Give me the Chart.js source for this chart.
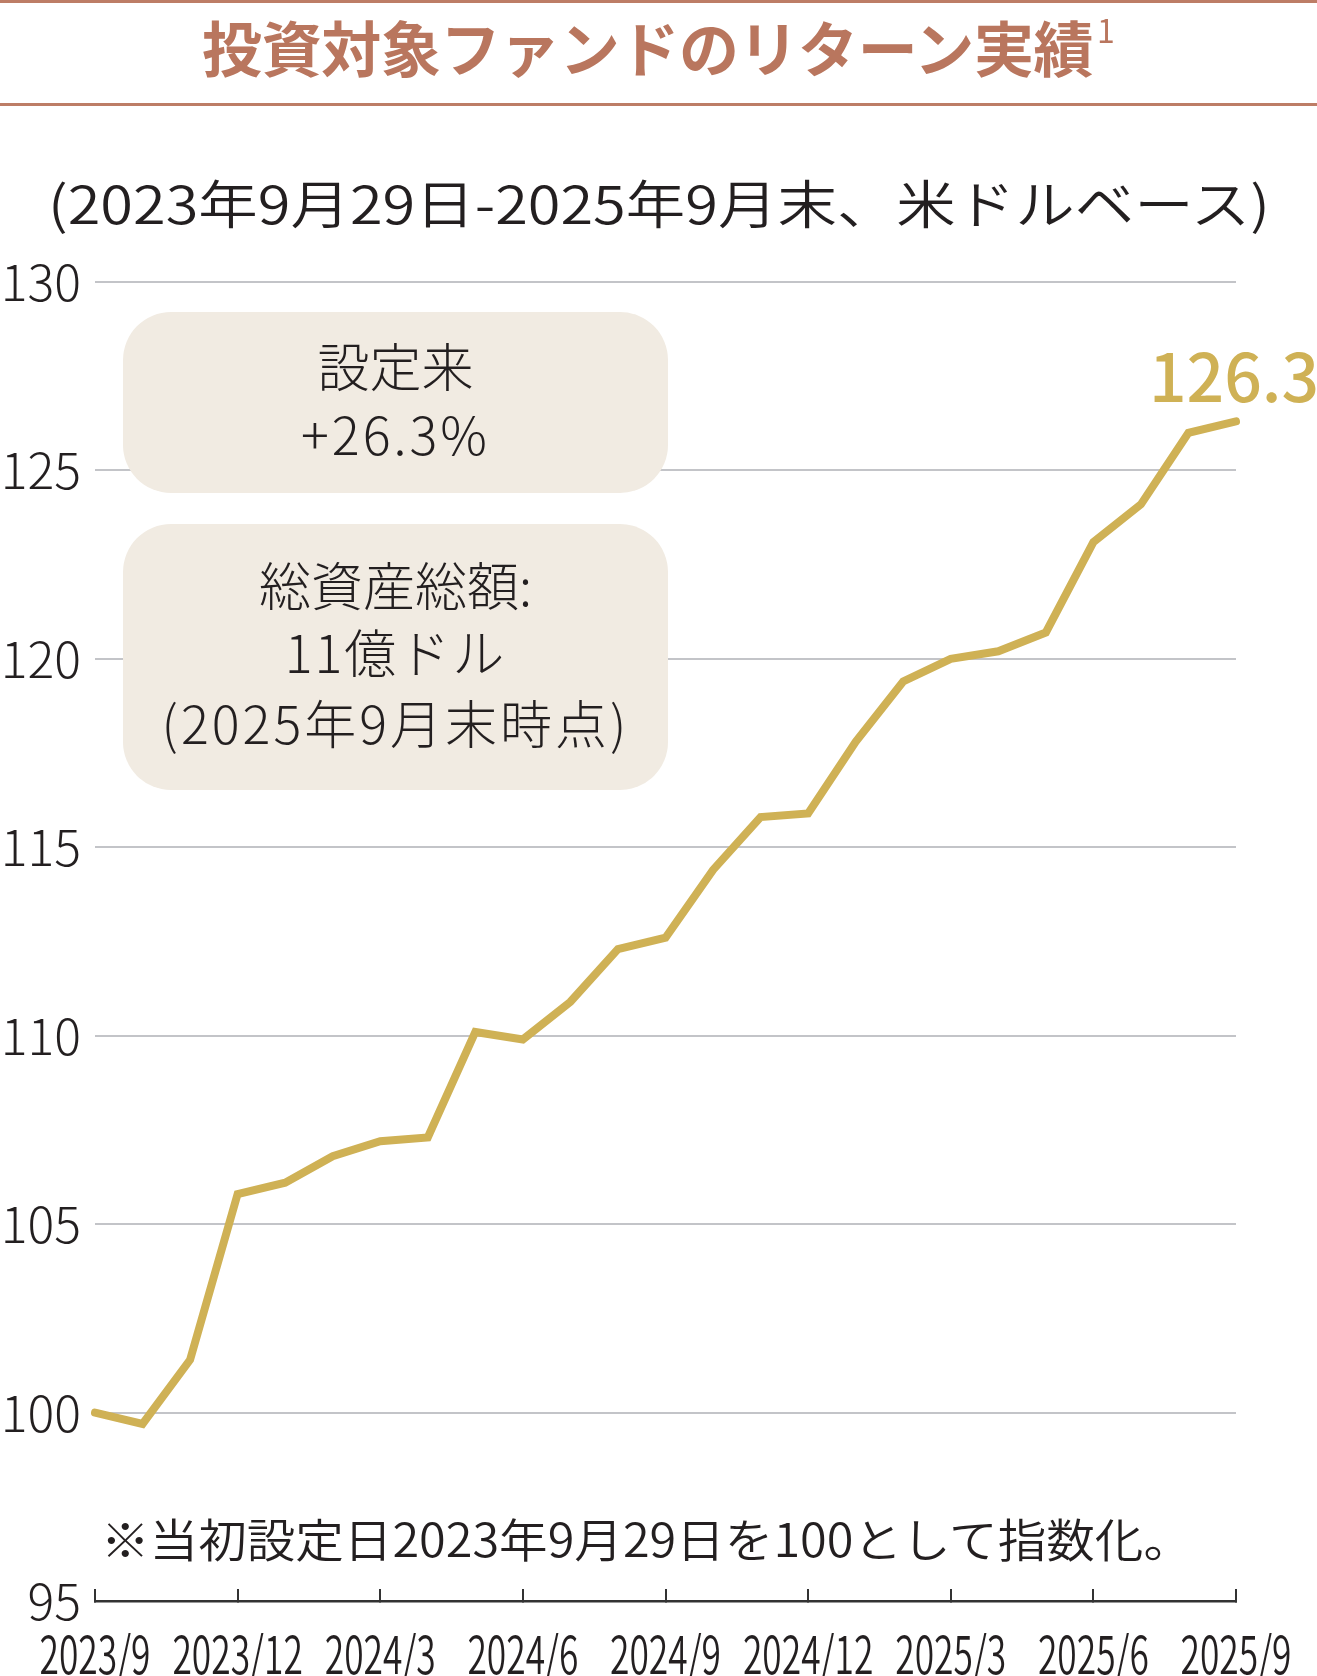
<!DOCTYPE html>
<html lang="ja">
<head>
<meta charset="utf-8">
<script src="https://cdn.jsdelivr.net/npm/chart.js@4.4.1/dist/chart.umd.min.js"></script>
<style>
  html, body { margin: 0; padding: 0; background: #ffffff; }
  body { width: 1317px; height: 1676px; position: relative; overflow: hidden;
         font-family: "Noto Sans CJK JP", "Noto Sans", sans-serif; color: #231f20; }
  #wrap { position: absolute; left: 0; top: 0; width: 1317px; height: 1676px; }
  .rule { position: absolute; left: 0; width: 1317px; height: 3px; background: #bd7d66; }
  #title { position: absolute; left: 0; top: 16px; width: 1317px; text-align: center;
           font-size: 60px; line-height: 60px; font-weight: 700; color: #b9765e; white-space: nowrap; letter-spacing: -0.4px; }
  #title .sup { font-size: 32px; font-weight: 400; position: relative; top: -29px; margin-left: 4px; letter-spacing: 0; }
  .fit { position: absolute; white-space: nowrap; transform-origin: 0 0; display: inline-block; }
  #subtitle { left: 48px; top: 176px; font-size: 52px; line-height: 52px; font-weight: 350; }
  #note { left: 101px; top: 1514px; font-size: 46px; line-height: 46px; font-weight: 350; }
  .box { position: absolute; left: 123px; width: 545px; background: #f1ebe2; border-radius: 48px; }
  .box div { position: absolute; left: 0; width: 545px; text-align: center; font-size: 52px; line-height: 52px;
             font-weight: 300; white-space: nowrap; }
</style>
</head>
<body>
<div id="wrap"><canvas id="c" width="1317" height="1676"></canvas></div>

<div class="rule" style="top:0px"></div>
<div class="rule" style="top:103px"></div>
<div id="title">投資対象ファンドのリターン実績<span class="sup">1</span></div>
<div id="subtitle" class="fit" data-w="1222">(2023年9月29日-2025年9月末、米ドルベース)</div>

<div class="box" style="top:312px;height:181px">
  <div style="top:27px">設定来</div>
  <div style="top:95px;letter-spacing:3px">+26.3%</div>
</div>
<div class="box" style="top:524px;height:266px">
  <div style="top:34px">総資産総額:</div>
  <div style="top:101px;letter-spacing:2px">11億ドル</div>
  <div style="top:172px;letter-spacing:3px">(2025年9月末時点)</div>
</div>

<div id="note" class="fit" data-w="1091">※当初設定日2023年9月29日を100として指数化。</div>

<script>
// ---- data ----
const months = [
  "2023/9","2023/10","2023/11","2023/12",
  "2024/1","2024/2","2024/3","2024/4","2024/5","2024/6","2024/7","2024/8","2024/9","2024/10","2024/11","2024/12",
  "2025/1","2025/2","2025/3","2025/4","2025/5","2025/6","2025/7","2025/8","2025/9"
];
const fundIndex = [
  100.0, 99.7, 101.4, 105.8,
  106.1, 106.8, 107.2, 107.3, 110.1, 109.9, 110.9, 112.3, 112.6, 114.4, 115.8, 115.9,
  117.8, 119.4, 120.0, 120.2, 120.7, 123.1, 124.1, 126.0, 126.3
];
const xTickLabels = ["2023/9","2023/12","2024/3","2024/6","2024/9","2024/12","2025/3","2025/6","2025/9"];
const yTicks = [95, 100, 105, 110, 115, 120, 125, 130];

const GOLD = "#cfb155";
const FONT = '"Noto Sans CJK JP", "Noto Sans", sans-serif';

// fit condensed text widths
document.querySelectorAll('.fit').forEach(el => {
  const w = parseFloat(el.dataset.w);
  const r = el.getBoundingClientRect().width;
  if (r > 0) el.style.transform = 'scaleX(' + (w / r) + ')';
});

const annotate = {
  id: 'annotate',
  afterDraw(chart) {
    const ctx = chart.ctx;
    const xs = chart.scales.x;
    ctx.save();
    // condensed x tick labels, positioned by the category scale
    ctx.font = '350 52px ' + FONT;
    ctx.fillStyle = '#231f20';
    ctx.textAlign = 'center';
    ctx.textBaseline = 'alphabetic';
    xTickLabels.forEach(lab => {
      const x = xs.getPixelForValue(months.indexOf(lab));
      ctx.save();
      ctx.translate(x, 1674);
      ctx.scale(0.68, 1);
      ctx.fillText(lab, 0, 0);
      ctx.restore();
    });
    // last value label
    const meta = chart.getDatasetMeta(0);
    const last = meta.data[meta.data.length - 1];
    const v = fundIndex[fundIndex.length - 1];
    ctx.font = '500 66px ' + FONT;
    ctx.fillStyle = GOLD;
    ctx.textAlign = 'center';
    ctx.fillText(v.toFixed(1), last.x - 2, last.y - 19);
    ctx.restore();
  }
};

new Chart(document.getElementById('c'), {
  type: 'line',
  data: {
    labels: months,
    datasets: [{
      data: fundIndex,
      borderColor: GOLD,
      borderWidth: 8,
      pointRadius: 0,
      tension: 0,
      borderCapStyle: 'round',
      borderJoinStyle: 'miter',
      clip: false
    }]
  },
  options: {
    responsive: false,
    animation: false,
    events: [],
    layout: { padding: { top: 282, right: 81, bottom: 0, left: 0 } },
    plugins: { legend: { display: false }, tooltip: { enabled: false }, title: { display: false } },
    scales: {
      x: {
        type: 'category',
        offset: false,
        ticks: { display: false, autoSkip: false },
        grid: {
          display: true,
          drawOnChartArea: false,
          drawTicks: true,
          tickLength: -12,
          lineWidth: 2,
          color: c => (xTickLabels.includes(months[c.index]) ? '#333333' : 'rgba(0,0,0,0)'),
          tickColor: c => (xTickLabels.includes(months[c.index]) ? '#333333' : 'rgba(0,0,0,0)')
        },
        border: { display: true, color: '#333333', width: 2.5 },
        afterFit: s => { s.height = 75; }
      },
      y: {
        min: yTicks[0],
        max: yTicks[yTicks.length - 1],
        afterBuildTicks: s => { s.ticks = yTicks.map(v => ({ value: v })); },
        ticks: {
          padding: 14,
          color: '#231f20',
          font: { family: FONT, size: 50, weight: 300 },
          callback: v => String(v)
        },
        grid: {
          drawTicks: false,
          lineWidth: 2,
          color: c => (c.tick && c.tick.value === yTicks[0] ? 'rgba(0,0,0,0)' : '#c3c4c8')
        },
        border: { display: false },
        afterFit: s => { s.width = 95; }
      }
    }
  },
  plugins: [annotate]
});
</script>
</body>
</html>
